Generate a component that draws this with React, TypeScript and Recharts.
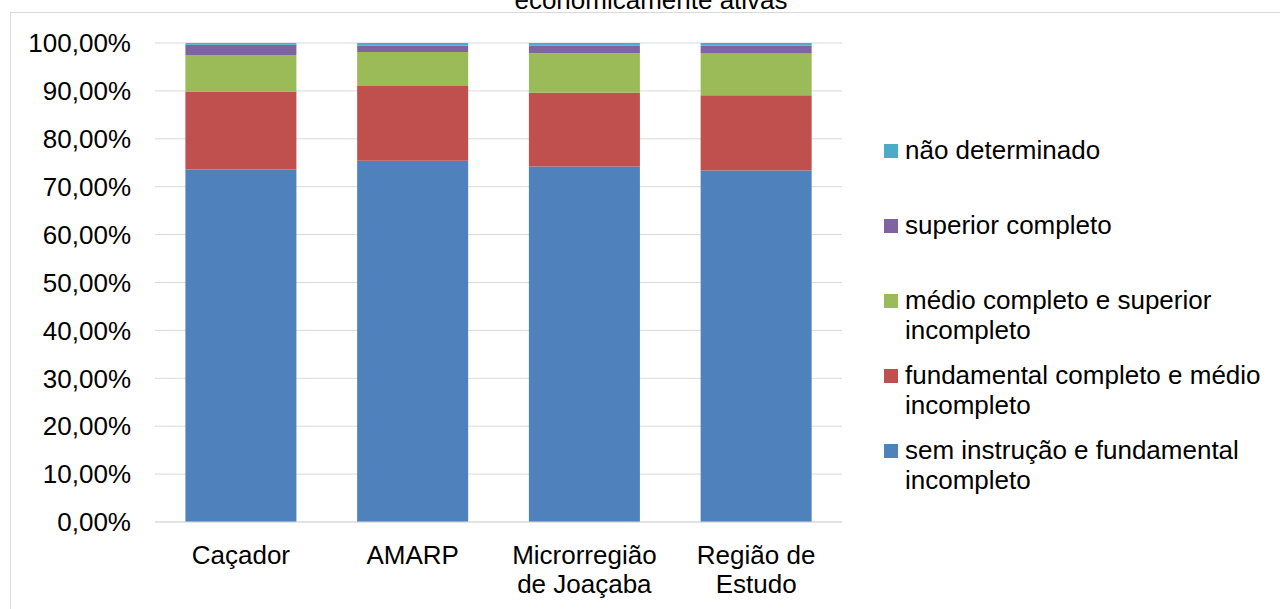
import React from 'react';
import { BarChart, Bar, XAxis, YAxis, CartesianGrid, Legend } from 'recharts';

// leitura aproximada do gráfico original (percentuais)
const categories = ['Caçador', 'AMARP', 'Microrregião de Joaçaba', 'Região de Estudo'];
const semInstrucao = [73.6, 75.4, 74.2, 73.4];
const fundamental = [16.3, 15.6, 15.4, 15.7];
const medio = [7.6, 7.1, 8.25, 8.7];
const superior = [2.15, 1.3, 1.55, 1.6];
const naoDeterminado = [0.35, 0.6, 0.6, 0.6];
const yTicks = [0, 10, 20, 30, 40, 50, 60, 70, 80, 90, 100];

const FONT = '"Liberation Sans", Arial, sans-serif';

const series = [
  { key: 'sem', name: 'sem instrução e fundamental incompleto', color: '#4F81BD', values: semInstrucao },
  { key: 'fund', name: 'fundamental completo e médio incompleto', color: '#C0504D', values: fundamental },
  { key: 'med', name: 'médio completo e superior incompleto', color: '#9BBB59', values: medio },
  { key: 'sup', name: 'superior completo', color: '#8064A2', values: superior },
  { key: 'nd', name: 'não determinado', color: '#4BACC6', values: naoDeterminado },
];

const data = categories.map((name, i) => {
  const row: any = { name };
  series.forEach((s) => {
    row[s.key] = s.values[i];
  });
  return row;
});

const formatPct = (v: number) => `${v.toFixed(2).replace('.', ',')}%`;

// quebra simples por número de caracteres
const wrapLabel = (label: string, max = 12) => {
  const lines: string[] = [];
  let cur = '';
  label.split(' ').forEach((w) => {
    const next = cur ? `${cur} ${w}` : w;
    if (cur && next.length > max) {
      lines.push(cur);
      cur = w;
    } else {
      cur = next;
    }
  });
  if (cur) lines.push(cur);
  return lines;
};

const CategoryTick = (props: any) => {
  const { x, y, payload } = props;
  const lines = wrapLabel(String(payload.value));
  return (
    <text x={x} y={y} textAnchor="middle" fontSize={26} fontFamily={FONT} fill="#000">
      {lines.map((l, i) => (
        <tspan key={i} x={x} dy={i === 0 ? 18.5 : 29}>
          {l}
        </tspan>
      ))}
    </text>
  );
};

// legenda na ordem inversa das séries, como no Excel
const renderLegend = () => {
  const items = [...series].reverse();
  return (
    <div style={{ position: 'relative', fontFamily: FONT, fontSize: 26, color: '#000' }}>
      {items.map((item, i) => (
        <div
          key={item.key}
          style={{ position: 'absolute', left: 0, top: i * 75, display: 'flex', alignItems: 'flex-start' }}
        >
          <div style={{ width: 14, height: 14, marginTop: 9, background: item.color, flex: 'none' }} />
          <div style={{ marginLeft: 7, width: 372, lineHeight: '30px' }}>{item.name}</div>
        </div>
      ))}
    </div>
  );
};

export default function App() {
  return (
    <div style={{ position: 'absolute', left: 0, top: 0, width: 1280, height: 609, overflow: 'hidden', background: '#fff' }}>
      <div
        style={{
          position: 'absolute',
          left: 0,
          width: 1302,
          top: -15.5,
          textAlign: 'center',
          fontFamily: FONT,
          fontSize: 26,
          lineHeight: '30px',
          color: '#000',
        }}
      >
        economicamente ativas
      </div>
      <div
        style={{
          position: 'absolute',
          left: 10,
          top: 12,
          width: 1300,
          height: 640,
          border: '1px solid #d9d9d9',
        }}
      />
      <div style={{ position: 'absolute', left: 0, top: 0 }}>
        <BarChart
          width={1280}
          height={609}
          data={data}
          margin={{ top: 43, right: 438, bottom: 0, left: 0 }}
          barCategoryGap="17.7%"
        >
          <CartesianGrid vertical={false} stroke="#d9d9d9" />
          <XAxis
            dataKey="name"
            height={87}
            axisLine={{ stroke: '#d9d9d9' }}
            tickLine={false}
            tickSize={0}
            tickMargin={23.5}
            interval={0}
            tick={<CategoryTick />}
          />
          <YAxis
            width={155}
            domain={[0, 100]}
            ticks={yTicks}
            tickFormatter={formatPct}
            axisLine={false}
            tickLine={false}
            tickSize={0}
            tickMargin={24}
            tick={{ fontSize: 26, fontFamily: FONT, fill: '#000' }}
          />
          <Legend
            layout="vertical"
            align="center"
            verticalAlign="middle"
            wrapperStyle={{ left: 884, top: 135, width: 396, height: 380 }}
            content={renderLegend}
          />
          {series.map((s) => (
            <Bar key={s.key} dataKey={s.key} name={s.name} stackId="a" fill={s.color} isAnimationActive={false} />
          ))}
        </BarChart>
      </div>
    </div>
  );
}
